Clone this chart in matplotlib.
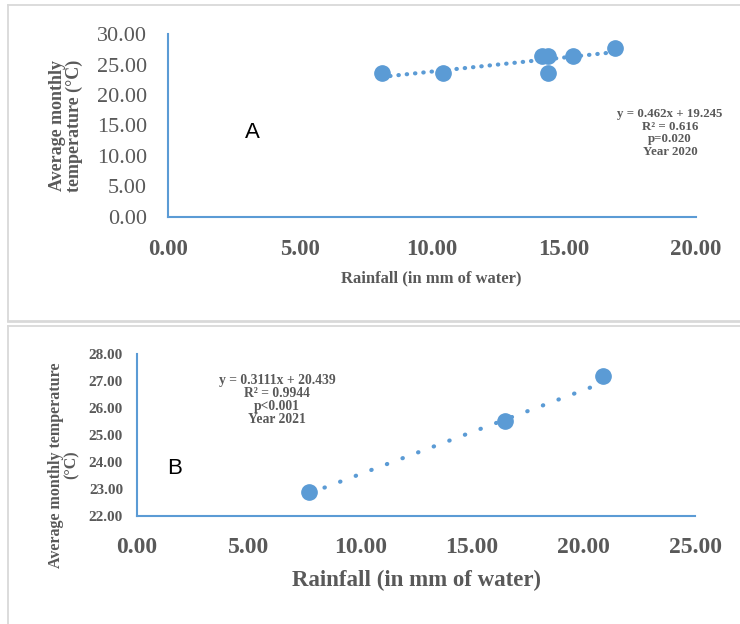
import matplotlib
matplotlib.use("Agg")
import matplotlib.pyplot as plt
from matplotlib.lines import Line2D
import numpy as np

# ---------------- data ----------------
rain_2020 = [8.1, 10.4, 14.15, 14.4, 14.4, 15.35, 16.95]
temp_2020 = [23.6, 23.6, 26.4, 26.4, 23.6, 26.4, 27.7]
slope_2020, intercept_2020 = 0.462, 19.245

rain_2021 = [7.7, 16.5, 20.9]
temp_2021 = [22.9, 25.5, 27.2]
slope_2021, intercept_2021 = 0.3111, 20.439

xticks_a = [0, 5, 10, 15, 20]
yticks_a = [0, 5, 10, 15, 20, 25, 30]
xticks_b = [0, 5, 10, 15, 20, 25]
yticks_b = [22, 23, 24, 25, 26, 27, 28]

label_a = "y = 0.462x + 19.245\nR² = 0.616\np=0.020\nYear 2020"
label_b = "y = 0.3111x + 20.439\nR² = 0.9944\np<0.001\nYear 2021"

# ---------------- style ----------------
W, H = 740, 624
BLUE = "#5B9BD5"
GREY = "#595959"
SERIF = "Liberation Serif"
SANS = "Liberation Sans"

fig = plt.figure(figsize=(W / 100, H / 100), dpi=100)


def fx(x):
    return x / W


def fy(y):
    return 1 - y / H


def axes_px(left, top, right, bottom):
    return fig.add_axes([fx(left), fy(bottom), (right - left) / W, (bottom - top) / H])


# panel borders
bc = "#D9D9D9"
for (x0, y0, x1, y1, lw) in [
    (8, 5, 760, 5, 1.3), (8, 5, 8, 321, 1.3), (8, 321, 760, 321, 2.0),
    (8, 325.5, 760, 325.5, 1.3), (8, 325.5, 8, 640, 1.3),
]:
    fig.add_artist(Line2D([fx(x0), fx(x1)], [fy(y0), fy(y1)],
                          transform=fig.transFigure, color=bc, lw=lw))


def style_axes(ax):
    for s in ["top", "right"]:
        ax.spines[s].set_visible(False)
    for s in ["left", "bottom"]:
        ax.spines[s].set_color(BLUE)
        ax.spines[s].set_linewidth(1.5)
    ax.tick_params(length=0)
    ax.set_facecolor("none")


# ---------------- Panel A ----------------
axA = axes_px(168, 34.3, 696, 216.5)
style_axes(axA)
axA.set_xlim(0, 20)
axA.set_ylim(0, 30)
xs = np.array([min(rain_2020), max(rain_2020)])
axA.plot(xs, slope_2020 * xs + intercept_2020, color=BLUE, lw=3.0,
         linestyle=(0, (0.1, 1.9)), dash_capstyle="round", zorder=2)
axA.plot(rain_2020, temp_2020, "o", color=BLUE, ms=11, mec=BLUE, zorder=3, clip_on=False)
axA.set_xticks(xticks_a)
axA.set_xticklabels([f"{v:.2f}" for v in xticks_a], fontfamily=SERIF,
                    fontweight="bold", fontsize=16.5, color=GREY)
axA.set_yticks(yticks_a)
axA.set_yticklabels([f"{v:.2f}" for v in yticks_a], fontfamily=SERIF,
                    fontsize=16, color=GREY)
axA.tick_params(axis="x", pad=16)
axA.tick_params(axis="y", pad=15)

fig.text(fx(431), fy(278), "Rainfall (in mm of water)", ha="center", va="center",
         fontfamily=SERIF, fontweight="bold", fontsize=12, color=GREY)
fig.text(fx(66), fy(126), "Average monthly\ntemperature (°C)", ha="center", va="center",
         rotation=90, fontfamily=SERIF, fontweight="bold", fontsize=13, color=GREY,
         linespacing=1.05)
fig.text(fx(670), fy(133), label_a, ha="center", va="center", fontfamily=SERIF,
         fontweight="bold", fontsize=9.3, color=GREY, linespacing=1.1)
fig.text(fx(252), fy(133), "A", ha="center", va="center", fontfamily=SANS,
         fontsize=16, color="black")

# ---------------- Panel B ----------------
axB = axes_px(137, 354, 695, 516)
style_axes(axB)
axB.set_xlim(0, 25)
axB.set_ylim(22, 28)
xs = np.array([min(rain_2021), max(rain_2021)])
axB.plot(xs, slope_2021 * xs + intercept_2021, color=BLUE, lw=3.0,
         linestyle=(0, (0.1, 3.9)), dash_capstyle="round", zorder=2)
axB.plot(rain_2021, temp_2021, "o", color=BLUE, ms=11, mec=BLUE, zorder=3, clip_on=False)
axB.set_xticks(xticks_b)
axB.set_xticklabels([f"{v:.2f}" for v in xticks_b], fontfamily=SERIF,
                    fontweight="bold", fontsize=17, color=GREY)
axB.set_yticks(yticks_b)
axB.set_yticklabels([f"{v:.2f}" for v in yticks_b], fontfamily=SERIF,
                    fontweight="bold", fontsize=11, color=GREY)
axB.tick_params(axis="x", pad=15)
axB.tick_params(axis="y", pad=10)

fig.text(fx(416), fy(580), "Rainfall (in mm of water)", ha="center", va="center",
         fontfamily=SERIF, fontweight="bold", fontsize=16.5, color=GREY)
fig.text(fx(64), fy(465), "Average monthly temperature\n(°C)", ha="center", va="center",
         rotation=90, fontfamily=SERIF, fontweight="bold", fontsize=11.5, color=GREY,
         linespacing=0.95)
fig.text(fx(277), fy(400), label_b, ha="center", va="center", fontfamily=SERIF,
         fontweight="bold", fontsize=9.8, color=GREY, linespacing=1.0)
fig.text(fx(175), fy(468), "B", ha="center", va="center", fontfamily=SANS,
         fontsize=16, color="black")

fig.savefig("out.png", dpi=100)
